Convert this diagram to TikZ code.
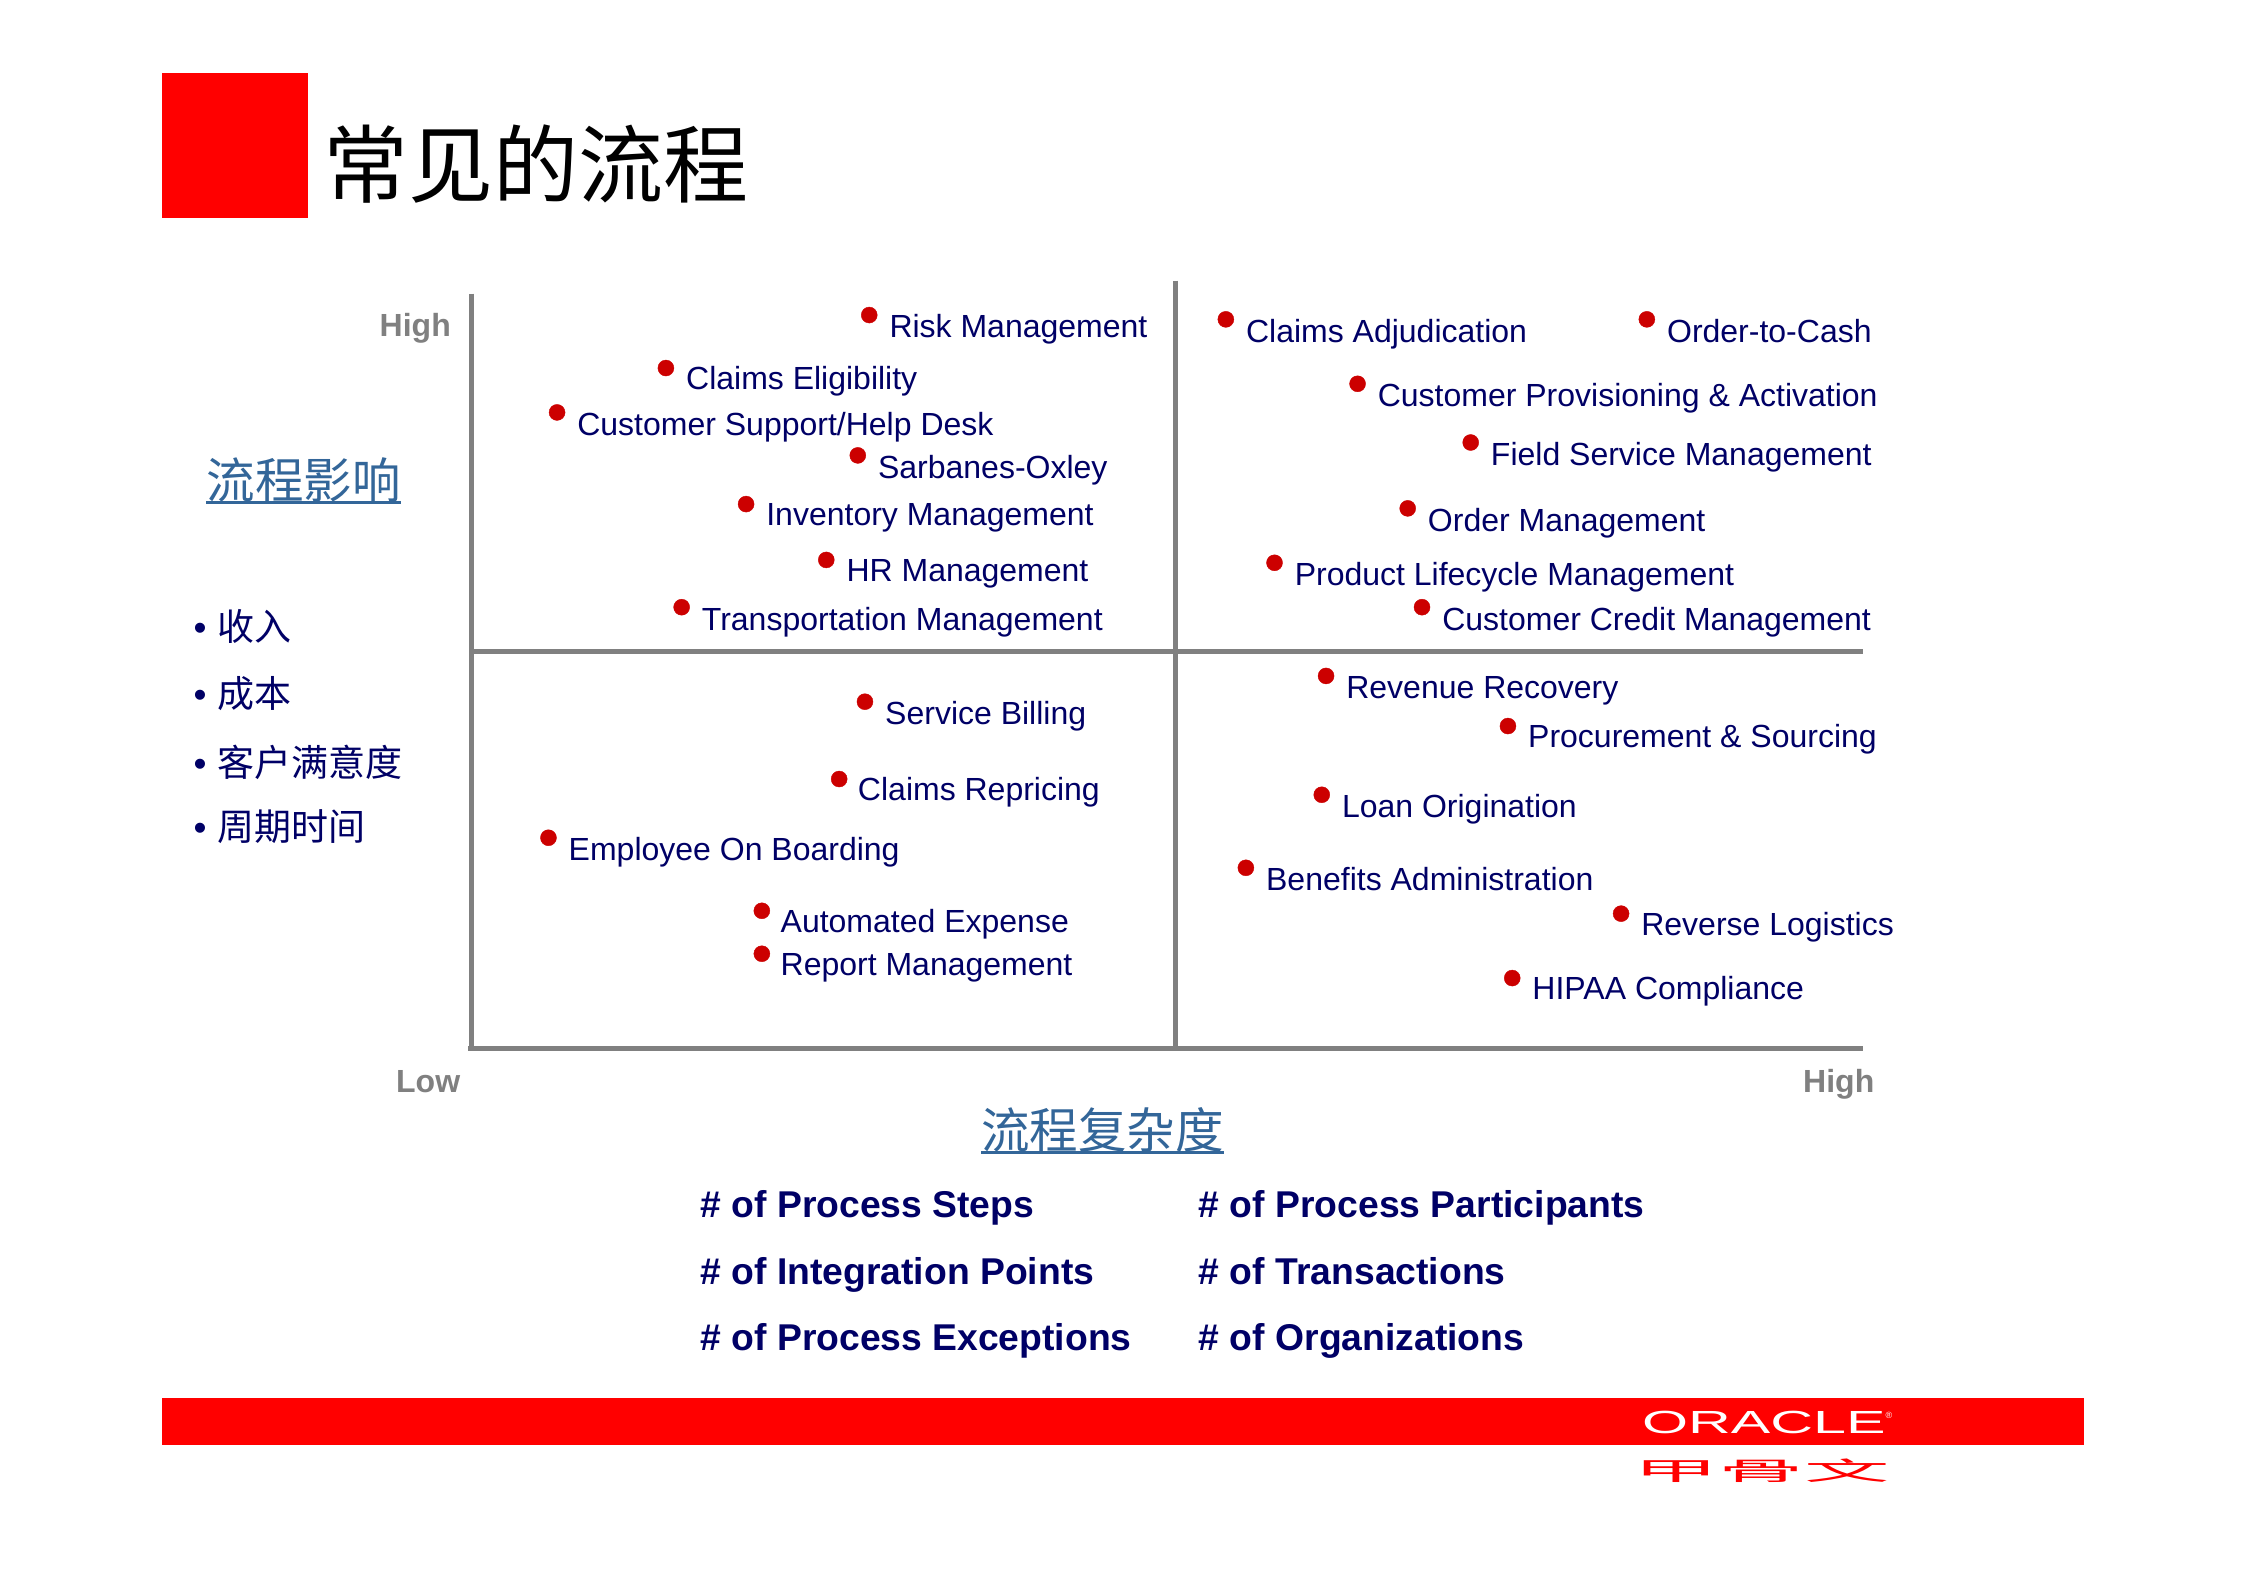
\documentclass[tikz,border=0pt]{standalone}
\usepackage{fontspec}
\usepackage{graphicx}
\setmainfont{Liberation Sans}
\newfontfamily\cjk{Noto Sans CJK SC}
\definecolor{navytext}{HTML}{000066}
\definecolor{headblue}{HTML}{336699}
\definecolor{axisgray}{HTML}{808080}
\definecolor{dotred}{HTML}{CC0000}
\begin{document}
\begin{tikzpicture}[x=1.432pt,y=-1.432pt]
	\tikzstyle{axis} = [draw=axisgray, line width=5pt]
	\tikzstyle{item} = [anchor=base west, inner sep=0pt, text=navytext, font=\fontsize{32}{32}\selectfont]
	\tikzstyle{level} = [anchor=base, inner sep=0pt, text=axisgray, font=\fontsize{32}{32}\selectfont\bfseries]
	\tikzstyle{measure} = [anchor=base west, inner sep=0pt, text=navytext, font=\fontsize{37.3}{37.3}\selectfont\bfseries]
	\tikzstyle{impact} = [anchor=base west, inner sep=0pt, text=navytext, font=\fontsize{37}{37}\selectfont]
	\tikzstyle{heading} = [anchor=base, inner sep=0pt, text=headblue, font=\fontsize{48.5}{48.5}\selectfont\cjk]
	\tikzstyle{headrule} = [draw=headblue, line width=3pt]
	\useasboundingbox (0,0) rectangle (1567.7,1108.2);
	\fill [white] (0,0) rectangle (1567.7,1108.2);
	\fill [red] (113,51) rectangle (215,152);
	\fill [red] (113,976) rectangle (1455,1009);
	\node[anchor=base west, inner sep=0pt, font=\fontsize{85}{85}\selectfont\cjk] (title) at (226,137) {常见的流程};
	% axes
	\coordinate (ytop) at (329,205);
	\coordinate (ybot) at (329,733);
	\coordinate (mtop) at (821,196);
	\coordinate (mbot) at (821,733);
	\coordinate (hleft) at (329,455);
	\coordinate (hright) at (1301,455);
	\coordinate (xleft) at (327,732);
	\coordinate (xright) at (1301,732);
	\draw [axis] (ytop) -- (ybot);
	\draw [axis] (mtop) -- (mbot);
	\draw [axis] (hleft) -- (hright);
	\draw [axis] (xleft) -- (xright);
	\node[level] (yhigh) at (290,235) {High};
	\node[level] (xlow) at (299,763) {Low};
	\node[level] (xhigh) at (1284,763) {High};
	% left column
	\node[heading] (impacthead) at (212,348) {流程影响};
	\draw [headrule] (impacthead.south west) -- (impacthead.south east);
	\node[impact] (revenue) at (135,447) {\makebox[24pt][l]{•}{\cjk 收入}};
	\node[impact] (cost) at (135,494) {\makebox[24pt][l]{•}{\cjk 成本}};
	\node[impact] (satisfy) at (135,542) {\makebox[24pt][l]{•}{\cjk 客户满意度}};
	\node[impact] (cycle) at (135,587) {\makebox[24pt][l]{•}{\cjk 周期时间}};
	% process dots
	\filldraw [dotred]
			(607,220) circle (8pt)
			(465,257) circle (8pt)
			(389,288) circle (8pt)
			(599,318) circle (8pt)
			(521,352) circle (8pt)
			(577,391) circle (8pt)
			(476,424) circle (8pt)
			(604,490) circle (8pt)
			(586,544) circle (8pt)
			(383,585) circle (8pt)
			(532,636) circle (8pt)
			(532,666) circle (8pt)
			(856,223) circle (8pt)
			(1150,223) circle (8pt)
			(948,268) circle (8pt)
			(1027,309) circle (8pt)
			(983,355) circle (8pt)
			(890,393) circle (8pt)
			(993,424) circle (8pt)
			(926,472) circle (8pt)
			(1053,507) circle (8pt)
			(923,555) circle (8pt)
			(870,606) circle (8pt)
			(1132,638) circle (8pt)
			(1056,683) circle (8pt);
	% upper left
	\node[item] (risk) at (621,236) {Risk Management};
	\node[item] (eligibility) at (479,272) {Claims Eligibility};
	\node[item] (support) at (403,304) {Customer Support/Help Desk};
	\node[item] (sox) at (613,334) {Sarbanes-Oxley};
	\node[item] (inventory) at (535,367) {Inventory Management};
	\node[item] (hr) at (591,406) {HR Management};
	\node[item] (transport) at (490,440) {Transportation Management};
	% lower left
	\node[item] (billing) at (618,506) {Service Billing};
	\node[item] (repricing) at (599,559) {Claims Repricing};
	\node[item] (boarding) at (397,601) {Employee On Boarding};
	\node[item] (expense) at (545,651) {Automated Expense};
	\node[item] (report) at (545,681) {Report Management};
	% upper right
	\node[item] (adjudication) at (870,239) {Claims Adjudication};
	\node[item] (cash) at (1164,239) {Order-to-Cash};
	\node[item] (provisioning) at (962,284) {Customer Provisioning \& Activation};
	\node[item] (field) at (1041,325) {Field Service Management};
	\node[item] (order) at (997,371) {Order Management};
	\node[item] (lifecycle) at (904,409) {Product Lifecycle Management};
	\node[item] (credit) at (1007,440) {Customer Credit Management};
	% lower right
	\node[item] (recovery) at (940,488) {Revenue Recovery};
	\node[item] (sourcing) at (1067,522) {Procurement \& Sourcing};
	\node[item] (loan) at (937,571) {Loan Origination};
	\node[item] (benefits) at (884,622) {Benefits Administration};
	\node[item] (logistics) at (1146,653) {Reverse Logistics};
	\node[item] (hipaa) at (1070,698) {HIPAA Compliance};
	% complexity
	\node[heading] (complexhead) at (770,802) {流程复杂度};
	\draw [headrule] (complexhead.south west) -- (complexhead.south east);
	\node[measure] (steps) at (489,850) {\# of Process Steps};
	\node[measure] (points) at (489,897) {\# of Integration Points};
	\node[measure] (exceptions) at (489,943) {\# of Process Exceptions};
	\node[measure] (participants) at (837,850) {\# of Process Participants};
	\node[measure] (transactions) at (837,897) {\# of Transactions};
	\node[measure] (organizations) at (837,943) {\# of Organizations};
	% logo
	\node[anchor=base, inner sep=0pt, text=white, font=\fontsize{32}{32}\selectfont] (oracle) at (1234,1001) {\scalebox{1.85}[1]{ORACLE}\raisebox{15pt}{\fontsize{9}{9}\selectfont ®}};
	\node[anchor=base, inner sep=0pt, text=red, font=\fontsize{30}{30}\selectfont\cjk] (jiagu) at (1230,1034) {\scalebox{2.85}[0.85]{甲骨文}};
\end{tikzpicture}
\end{document}
